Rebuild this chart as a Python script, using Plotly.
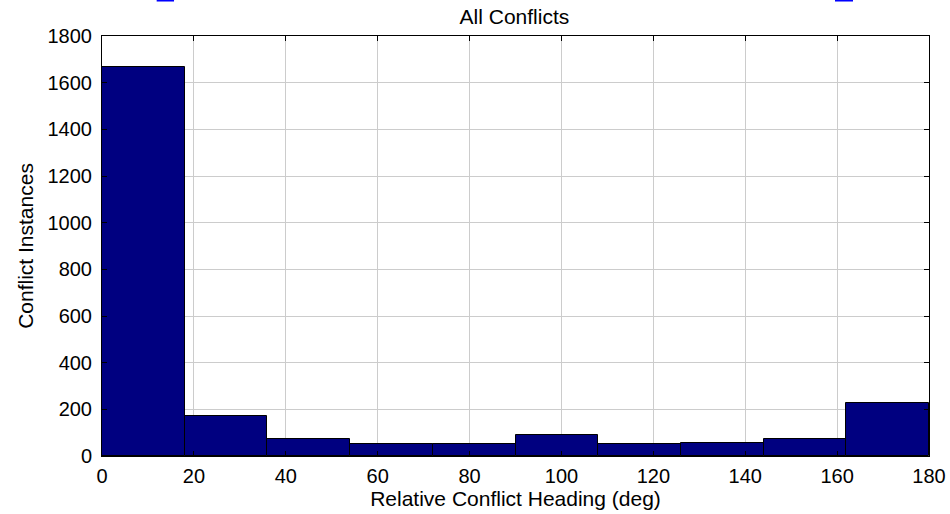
import plotly.graph_objects as go

# Histogram of relative conflict headings (10 bins of 18 deg over 0-180)
bin_edges = [0, 18, 36, 54, 72, 90, 108, 126, 144, 162, 180]
counts = [1668, 170, 75, 50, 50, 88, 50, 57, 75, 226]

x_ticks = [0, 20, 40, 60, 80, 100, 120, 140, 160, 180]
y_ticks = [0, 200, 400, 600, 800, 1000, 1200, 1400, 1600, 1800]

centers = [(a + b) / 2 for a, b in zip(bin_edges[:-1], bin_edges[1:])]
widths = [b - a for a, b in zip(bin_edges[:-1], bin_edges[1:])]

FONT = "Liberation Sans, Arial, Helvetica, sans-serif"

fig = go.Figure(
    go.Bar(
        x=centers,
        y=counts,
        width=widths,
        marker=dict(color="#000080", line=dict(color="black", width=1)),
        showlegend=False,
    )
)

axis_common = dict(
    automargin=False,
    showline=True,
    linecolor="black",
    linewidth=1,
    mirror="allticks",
    ticks="inside",
    ticklen=5,
    tickcolor="black",
    showgrid=True,
    gridcolor="#cccccc",
    gridwidth=1,
    zeroline=False,
    tickfont=dict(family=FONT, size=20, color="black"),
)

fig.update_xaxes(
    range=[bin_edges[0], bin_edges[-1]],
    tickvals=x_ticks,
    ticktext=[str(v) for v in x_ticks],
    ticklabelstandoff=2,
    title=dict(text="Relative Conflict Heading (deg)",
               font=dict(family=FONT, size=21, color="black"), standoff=4),
    **axis_common,
)
fig.update_yaxes(
    range=[0, 1800],
    tickvals=y_ticks,
    ticktext=[str(v) for v in y_ticks],
    ticklabelstandoff=5,
    title=dict(text="Conflict Instances",
               font=dict(family=FONT, size=21, color="black"), standoff=8),
    **axis_common,
)

# Small blue link marks along the top edge of the page
for x0, x1 in [(0.0661, 0.0871), (0.8863, 0.9081)]:
    fig.add_shape(type="rect", xref="paper", yref="paper",
                  x0=x0, x1=x1, y0=1.0821, y1=1.0870,
                  fillcolor="#0000ff", line=dict(width=0))

fig.update_layout(
    width=950,
    height=514,
    margin=dict(l=102, r=21, t=36, b=58),
    paper_bgcolor="white",
    plot_bgcolor="white",
    bargap=0,
    title=dict(text="All Conflicts", x=0.5415, xanchor="center",
               y=1 - 17 / 514, yanchor="middle",
               font=dict(family=FONT, size=21, color="black")),
    font=dict(family=FONT, color="black"),
)

fig.write_html("out.html")
